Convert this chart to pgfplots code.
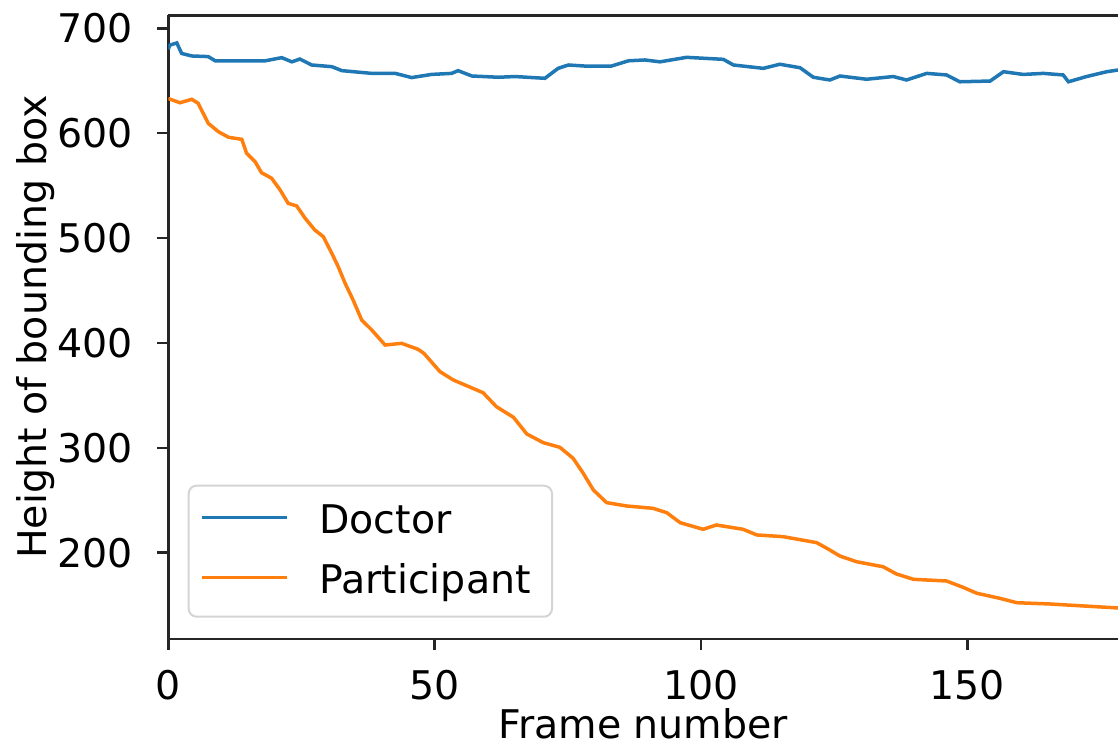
\documentclass[border=0pt]{standalone}
\usepackage{fontspec}
\setmainfont{DejaVu Sans}
\usepackage{pgfplots}
\pgfplotsset{compat=1.18}
\definecolor{tabblue}{HTML}{1F77B4}
\definecolor{taborange}{HTML}{FF7F0E}
\definecolor{spine}{HTML}{262626}
\definecolor{legframe}{HTML}{D4D4D4}
\begin{document}
\begin{tikzpicture}[font=\fontsize{39.5bp}{47bp}\selectfont]
\useasboundingbox (0,0) rectangle (1118bp,747bp);
\begin{axis}[
  at={(168.3bp,108bp)}, anchor=south west,
  scale only axis, width=949.7bp, height=623.5bp,
  xmin=0, xmax=178.3, ymin=117.7, ymax=712.2,
  axis x line*=box, axis y line*=left,
  xtick={0,50,100,150}, ytick={200,300,400,500,600,700},
  xtick pos=bottom, ytick pos=left,
  tick align=outside, major tick length=11bp,
  axis line style={spine, line width=2.5bp},
  every tick/.style={spine, line width=2.5bp},
  /pgf/number format/assume math mode=true,
  xticklabel style={anchor=base, inner sep=0pt, yshift=-49.3bp},
  yticklabel style={anchor=east, inner sep=0pt, xshift=-24bp},
  every axis x label/.style={at={(axis description cs:0.5,-0.16)}, anchor=base},
  every axis y label/.style={at={(axis description cs:-0.128,0.5)}, rotate=90, anchor=base},
  xlabel={Frame number}, ylabel={Height of bounding box},
  legend cell align=left,
  legend style={at={(axis description cs:0.0204,0.0342)}, anchor=south west,
    draw=legframe, line width=2bp, rounded corners=8bp, fill=white,
    inner xsep=11.3bp, inner ysep=18.3bp, row sep=25.6bp,
    /tikz/every odd column/.append style={column sep=30.8bp},
    nodes={inner sep=0pt, text height=30bp, text depth=4.4bp}},
  legend image code/.code={\draw[#1, line width=3.5bp, rounded corners=0pt] (0bp,3.5bp) -- (85bp,3.5bp);},
]
\addplot[tabblue, line width=3.5bp] coordinates {
(0,680) (0.3,684) (1.6,686) (2.5,676) (4.4,673.6) (7.5,673) (8.8,669) (18.2,669)
(21.3,672) (23.2,668) (24.7,670.7) (26.9,665) (30.7,663.4) (32.6,659.6) (38.2,657)
(42.6,657) (45.7,653) (49.4,656) (53.2,657) (54.4,659.6) (57,654.5) (62,653.3)
(65.1,654) (70.7,652.3) (73.2,661.8) (75.1,665) (78.2,664) (83.2,664) (86.4,669)
(89.5,669.8) (92.3,668) (97.3,672.3) (104.2,670.4) (106.1,665) (111.7,661.8)
(114.8,665.7) (118.6,662.4) (121.1,653.3) (124.2,650.7) (126.1,654.5) (131.1,651.4)
(136.1,654) (138.6,650.7) (142.4,657) (146.1,655.5) (148.6,649) (154.3,649.7)
(156.8,658.6) (160.5,656) (164.3,657) (168,655.5) (169,649) (172.4,654) (176.2,658.6)
(178.3,660.2)
};
\addlegendentry{Doctor}
\addplot[taborange, line width=3.5bp] coordinates {
(0,633) (2.2,629) (4.4,632.3) (5.6,628.5) (7.5,609.4) (9.4,601.4) (11.3,596.1)
(13.8,594.1) (14.7,580.8) (16.3,572.8) (17.5,562.3) (19.4,557) (21,545.8) (22.5,533.1)
(24.1,530.6) (25.7,518.8) (27.5,507.7) (29.1,501.3) (30.7,485.4) (31.9,472.7)
(33.2,456.8) (34.7,440.9) (36.3,421.9) (38.2,412.3) (40.7,398) (43.8,399.6)
(46.9,393.9) (48,390) (51,372.6) (53.5,364.7) (59.1,352.5) (61.6,339.2) (64.8,329.1)
(67.3,313.2) (70.4,304.9) (73.5,300.5) (76,290) (77.9,275.7) (79.8,259.8) (82.3,247.7)
(86.1,244.5) (91,242.3) (93.6,238.1) (96.1,228.6) (100.4,222.3) (102.9,226.4)
(107.9,222.3) (110.5,216.9) (115.4,215.3) (121.7,209.6) (123.6,204.3) (126.1,196.8)
(129.2,191.4) (134.2,186.6) (136.7,179.7) (139.9,174.6) (146.1,173) (149.2,167)
(151.8,161.3) (156.1,156.5) (159.3,152.3) (165.5,151.1) (171.8,149.2) (178.3,147.3)
};
\addlegendentry{Participant\hspace*{10bp}}
\end{axis}
\end{tikzpicture}
\end{document}
